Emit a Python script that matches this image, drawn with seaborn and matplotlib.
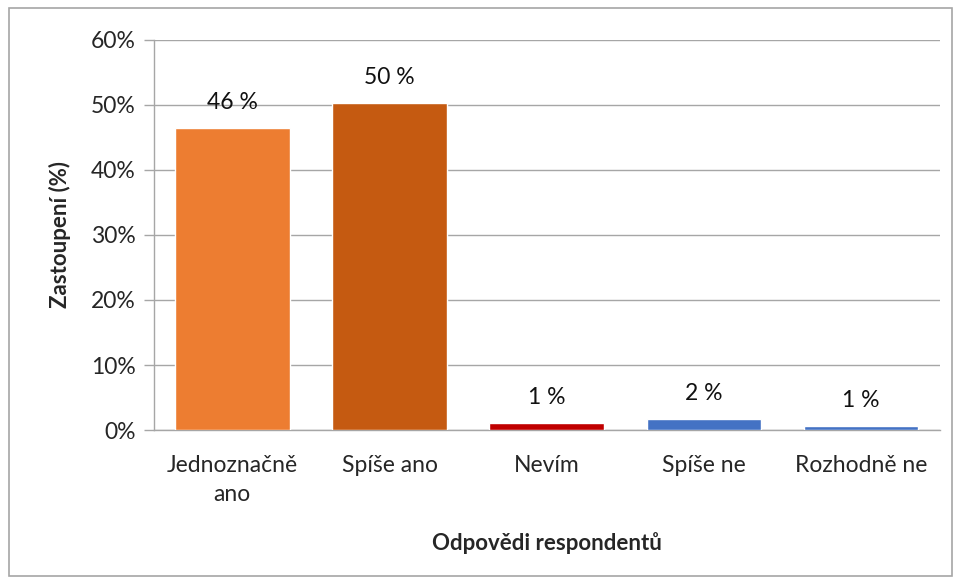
import matplotlib
matplotlib.use("Agg")
import matplotlib.pyplot as plt
import seaborn as sns
import pandas as pd
from matplotlib.patches import Rectangle

categories = ["Jednoznačně\nano", "Spíše ano", "Nevím", "Spíše ne", "Rozhodně ne"]
shares = [46.5, 50.3, 1.1, 1.7, 0.6]
labels = ["46 %", "50 %", "1 %", "2 %", "1 %"]
colors = ["#ED7D31", "#C55A11", "#C00000", "#4472C4", "#4472C4"]
yticks = [0, 10, 20, 30, 40, 50, 60]

df = pd.DataFrame({"odpoved": categories, "podil": shares})

sns.set_style("white")
plt.rcParams["font.family"] = ["Lato", "DejaVu Sans"]

fig = plt.figure(figsize=(9.55, 5.78), dpi=100)
ax = fig.add_axes([0.161, 0.256, 0.823, 0.675])

sns.barplot(data=df, x="odpoved", y="podil", hue="odpoved", palette=colors,
            legend=False, width=0.73, saturation=1, ax=ax, zorder=3)

for i, (v, t) in enumerate(zip(shares, labels)):
    ax.text(i, v + 2.3, t, ha="center", va="bottom", fontsize=16.5, color="#111111")

ax.set_ylim(0, 60)
ax.set_xlim(-0.5, len(categories) - 0.5)
ax.set_yticks(yticks)
ax.set_yticklabels([f"{t}%" for t in yticks], fontsize=16.5)
ax.yaxis.grid(True, color="#A6A6A6", linewidth=1, zorder=0)

# category labels without ticks, separators between categories
ax.set_xticks(range(len(categories)))
ax.set_xticklabels(categories, fontsize=16.5, linespacing=1.45)
ax.tick_params(axis="x", length=0, pad=18)
ax.set_xticks([i - 0.5 for i in range(len(categories) + 1)], minor=True)
ax.tick_params(axis="x", which="minor", length=7, color="#A6A6A6", width=1)
ax.tick_params(axis="y", length=7, color="#A6A6A6", width=1, left=True, pad=6)

for side in ["top", "right"]:
    ax.spines[side].set_visible(False)
for side in ["left", "bottom"]:
    ax.spines[side].set_color("#A6A6A6")
    ax.spines[side].set_linewidth(1)

ax.set_xlabel("Odpovědi respondentů", fontsize=16, fontweight="bold", labelpad=20)
ax.set_ylabel("Zastoupení (%)", fontsize=16, fontweight="bold", labelpad=14)

fig.patches.append(Rectangle((0.009, 0.003), 0.988, 0.983, transform=fig.transFigure,
                             fill=False, edgecolor="#A6A6A6", linewidth=1.2))

fig.savefig("out.png", dpi=100)
